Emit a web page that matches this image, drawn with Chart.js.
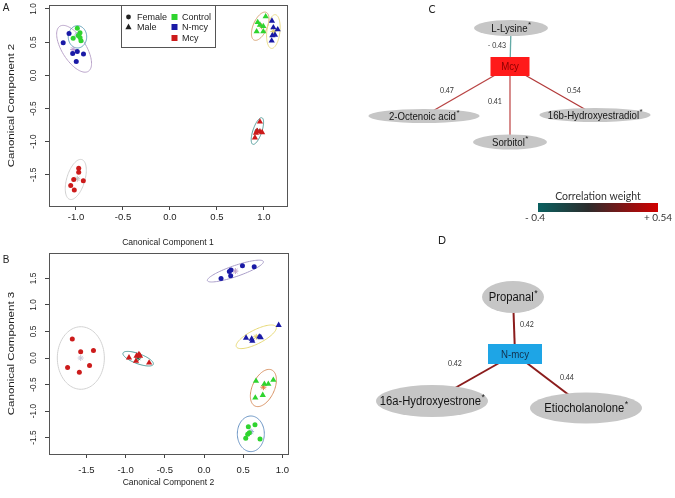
<!DOCTYPE html>
<html><head><meta charset="utf-8">
<script src="https://cdn.jsdelivr.net/npm/chart.js@4.4.1/dist/chart.umd.min.js"></script>
<style>
html,body{margin:0;padding:0;background:#fff}
body{width:675px;height:498px;position:relative;overflow:hidden}
.wrap{position:absolute}
</style></head><body>
<div class="wrap" style="left:0;top:0;width:300px;height:250px"><canvas id="chartA"></canvas></div>
<div class="wrap" style="left:0;top:248px;width:300px;height:250px"><canvas id="chartB"></canvas></div>
<div class="wrap" style="left:300px;top:0;width:375px;height:498px"><canvas id="chartN"></canvas></div>
<script>
// ================= DATA =================
// ---- Panel A : Canonical Component 1 vs 2 ----
const A_X_RANGE = [-1.287, 1.245];
const A_Y_RANGE = [-1.97, 1.06];
const A_X_TICKS = [-1.0, -0.5, 0.0, 0.5, 1.0];
const A_Y_TICKS = [1.0, 0.5, 0.0, -0.5, -1.0, -1.5];
const A_ctrlF_x = [-0.986, -0.957, -1.030, -0.957, -0.947, -0.975];
const A_ctrlF_y = [0.71, 0.64, 0.56, 0.57, 0.52, 0.60];
const A_nmcyF_x = [-1.074, -1.136, -1.035, -0.986, -0.920, -0.997];
const A_nmcyF_y = [0.63, 0.49, 0.33, 0.36, 0.32, 0.21];
const A_mcyF_x  = [-0.971, -0.971, -0.922, -1.024, -1.056, -1.018];
const A_mcyF_y  = [-1.40, -1.46, -1.59, -1.57, -1.66, -1.73];
const A_ctrlM_x = [1.018, 0.933, 0.957, 0.993, 0.922, 0.993];
const A_ctrlM_y = [0.886, 0.80, 0.76, 0.74, 0.66, 0.66];
const A_nmcyM_x = [1.085, 1.100, 1.146, 1.089, 1.117, 1.082];
const A_nmcyM_y = [0.82, 0.72, 0.69, 0.60, 0.61, 0.52];
const A_mcyM_x  = [0.957, 0.926, 0.915, 0.957, 0.904, 0.980];
const A_mcyM_y  = [-0.70, -0.84, -0.87, -0.85, -0.94, -0.86];
// group centroids (asterisks)
const A_cent_x = [-0.986, -1.03, 0.975, 1.10, 0.93, -0.986];
const A_cent_y = [0.607, 0.39, 0.74, 0.66, -0.84, -1.56];
// confidence ellipses: centre, two semi-axis vectors (data units)
const A_ELL_C = [[-1.02,0.40],[-0.984,0.58],[0.96,0.74],[1.10,0.66],[0.93,-0.84],[-1.002,-1.57]];
const A_ELL_U = [[-0.151,0.34],[0.098,0.0],[0.064,0.209],[0.021,0.254],[0.048,0.20],[0.064,0.30]];
const A_ELL_V = [[0.108,0.095],[0.0,0.168],[0.068,-0.042],[0.069,-0.012],[0.045,-0.021],[0.092,-0.039]];

// ---- Panel B : Canonical Component 2 vs 3 ----
const B_X_RANGE = [-1.977, 1.071];
const B_Y_RANGE = [-1.811, 1.981];
const B_X_TICKS = [-1.5, -1.0, -0.5, 0.0, 0.5, 1.0];
const B_Y_TICKS = [1.5, 1.0, 0.5, 0.0, -0.5, -1.0, -1.5];
const B_nmcyF_x = [0.217, 0.323, 0.344, 0.340, 0.490, 0.640];
const B_nmcyF_y = [1.50, 1.63, 1.66, 1.55, 1.74, 1.72];
const B_nmcyM_x = [0.536, 0.608, 0.616, 0.705, 0.723, 0.952];
const B_nmcyM_y = [0.38, 0.36, 0.32, 0.40, 0.39, 0.62];
const B_ctrlM_x = [0.663, 0.770, 0.820, 0.884, 0.654, 0.749];
const B_ctrlM_y = [-0.434, -0.49, -0.49, -0.415, -0.75, -0.70];
const B_ctrlF_x = [0.565, 0.650, 0.578, 0.557, 0.532, 0.714];
const B_ctrlF_y = [-1.296, -1.26, -1.41, -1.44, -1.515, -1.53];
const B_mcyF_x  = [-1.68, -1.573, -1.41, -1.74, -1.46, -1.59];
const B_mcyF_y  = [0.358, 0.12, 0.14, -0.18, -0.14, -0.27];
const B_mcyM_x  = [-0.957, -0.86, -0.83, -0.816, -0.867, -0.70];
const B_mcyM_y  = [0.006, 0.04, 0.07, 0.04, -0.057, -0.09];
const B_cent_x = [0.40, 0.666, 0.757, 0.60, -1.573, -0.84];
const B_cent_y = [1.64, 0.40, -0.55, -1.39, 0.0, 0.0];
const B_ELL_C = [[0.40,1.64],[0.666,0.40],[0.757,-0.566],[0.597,-1.43],[-1.571,0.0],[-0.84,-0.013]];
const B_ELL_U = [[0.357,0.181],[0.253,0.189],[0.107,0.34],[0.0,0.336],[0.30,0.0],[0.193,-0.106]];
const B_ELL_V = [[0.0227,-0.098],[0.04,-0.118],[0.127,-0.088],[0.172,0.0],[0.0,0.59],[-0.022,-0.088]];

// ---- Panel C network (layout units) ----
const C_NODES  = ['Mcy', 'L-Lysine', '2-Octenoic acid', '16b-Hydroxyestradiol', 'Sorbitol'];
const C_NODE_X = [21.0, 21.1, 12.4, 29.5, 21.0];
const C_NODE_Y = [6.65, 2.8, 11.6, 11.5, 14.2];
const C_EDGE_TO = [1, 2, 4, 3];
const C_WEIGHTS = [-0.43, 0.47, 0.41, 0.54];
const C_WLAB_X  = [19.7, 14.7, 19.5, 27.4];
const C_WLAB_Y  = [4.5, 9.0, 10.1, 9.0];
// ---- Panel D network ----
const D_NODES  = ['N-mcy', 'Propanal', '16a-Hydroxyestrone', 'Etiocholanolone'];
const D_NODE_X = [21.5, 21.3, 13.2, 28.6];
const D_NODE_Y = [35.4, 29.7, 40.1, 40.8];
const D_EDGE_TO = [1, 2, 3];
const D_WEIGHTS = [0.42, 0.42, 0.44];
const D_WLAB_X  = [22.7, 15.5, 26.7];
const D_WLAB_Y  = [32.4, 36.3, 37.7];
// colour bar
const CB_RANGE = [-0.4, 0.54];

// ================= STYLE =================
const COL_CTRL = '#2fd42f', COL_NMCY = '#1a1aa6', COL_MCY = '#cc1b1b';
const A_ELL_COL = ['#b9a3c9', '#5f9fb8', '#d6a273', '#e8da84', '#4f9a98', '#d0d0d0'];
const A_CENT_COL = ['#9aaacc', '#c0a0d0', '#e0a060', '#e0d070', '#2a6060', '#c4c4c4'];
const B_ELL_COL = ['#aa9ec9', '#e6d874', '#d89264', '#6a94c4', '#d2d2d2', '#4f9a98'];
const B_CENT_COL = ['#c0a0c8', '#e0d070', '#e07a40', '#90a8d0', '#c8c8d8', '#2a6040'];
const C_NODE_W = [3.9, 7.4, 11.1, 11.1, 7.4];
const C_NODE_H = [1.9, 1.6, 1.4, 1.4, 1.5];
const C_EDGE_COL = ['#63aaa6', '#b94444', '#c25050', '#b23a3a'];
const D_NODE_W = [5.4, 6.2, 11.2, 11.2];
const D_NODE_H = [2.0, 3.2, 3.2, 3.1];
const D_EDGE_COL = ['#8b1c1c', '#8b1c1c', '#8b1c1c'];

const SANS = "'Liberation Sans', Arial, sans-serif";
const CAL = "Lato, 'Open Sans', sans-serif";
Chart.defaults.font.family = SANS;
Chart.defaults.font.size = 9.5;
Chart.defaults.color = '#222';

// text helper: sx = scale along the text, sy = across
function txt(ctx, s, x, y, size, family, sx, align, rot, sy) {
  ctx.save();
  ctx.translate(x, y);
  if (rot) ctx.rotate(rot);
  ctx.scale(sx || 1, sy || 1);
  ctx.font = size + 'px ' + family;
  ctx.textAlign = align || 'center';
  ctx.textBaseline = 'middle';
  ctx.fillText(s, 0, 0);
  ctx.restore();
}

function pts(xs, ys) { return xs.map((x, i) => ({x: x, y: ys[i]})); }
function grp(label, xs, ys, color, shape) {
  return {label, data: pts(xs, ys), pointStyle: shape, backgroundColor: color, borderColor: color,
    borderWidth: 0, pointRadius: shape === 'triangle' ? 3.6 : 2.5, showLine: false};
}
function cent(xs, ys, cols) {
  return {label: 'centroid', data: pts(xs, ys), pointStyle: 'star', pointRadius: 3,
    borderColor: cols, backgroundColor: 'transparent', borderWidth: 1, showLine: false};
}
function ells(C, U, V, col) { return C.map((c, i) => ({c, u: U[i], v: V[i], color: col[i]})); }

// ---- plugin for the scatter panels ----
const framePlugin = {
  id: 'frame',
  beforeDatasetsDraw(chart, args, o) {
    const {ctx, scales: {x, y}} = chart;
    ctx.save();
    ctx.lineWidth = 1;
    o.ellipses.forEach(e => {
      ctx.beginPath();
      for (let i = 0; i <= 90; i++) {
        const t = i / 90 * 2 * Math.PI;
        const px = x.getPixelForValue(e.c[0] + Math.cos(t) * e.u[0] + Math.sin(t) * e.v[0]);
        const py = y.getPixelForValue(e.c[1] + Math.cos(t) * e.u[1] + Math.sin(t) * e.v[1]);
        if (i) ctx.lineTo(px, py); else ctx.moveTo(px, py);
      }
      ctx.strokeStyle = e.color;
      ctx.stroke();
    });
    ctx.restore();
  },
  afterDraw(chart, args, o) {
    const {ctx, chartArea: a, scales: {y}} = chart;
    ctx.save();
    ctx.strokeStyle = '#555';
    ctx.lineWidth = 1;
    ctx.strokeRect(Math.round(a.left) + 0.5, Math.round(a.top) + 0.5,
      Math.round(a.right - a.left), Math.round(a.bottom - a.top));
    ctx.fillStyle = '#222';
    // rotated y tick labels
    o.yticks.forEach(v => {
      txt(ctx, v.toFixed(1), a.left - o.ylabOff, y.getPixelForValue(v), 9.5, SANS, 0.88, 'center', -Math.PI / 2);
    });
    // axis titles
    txt(ctx, o.xTitle, (a.left + a.right) / 2, a.bottom + o.xTitleOff, 9.5, SANS, 0.9);
    txt(ctx, o.yTitle, 11.7, (a.top + a.bottom) / 2, 11.5, SANS, 1, 'center', -Math.PI / 2, 0.85);
    // panel letter
    txt(ctx, o.letter, o.letterPos[0], o.letterPos[1], 10, SANS, 1);
    // legend
    if (o.legend) {
      const w = 94, h = 42;
      const lx = (a.left + a.right) / 2 - w / 2, ly = a.top;
      ctx.fillStyle = '#fff';
      ctx.fillRect(lx, ly, w, h);
      ctx.strokeStyle = '#555';
      ctx.strokeRect(Math.round(lx) + 0.5, Math.round(ly) + 0.5, w, h);
      ctx.fillStyle = '#222';
      const rows = [ly + 12, ly + 22, ly + 33];
      ctx.beginPath(); ctx.arc(lx + 7.5, rows[0], 2.4, 0, 2 * Math.PI); ctx.fill();
      ctx.beginPath();
      ctx.moveTo(lx + 7.5, rows[1] - 3.4); ctx.lineTo(lx + 10.6, rows[1] + 2.2); ctx.lineTo(lx + 4.4, rows[1] + 2.2);
      ctx.closePath(); ctx.fill();
      txt(ctx, 'Female', lx + 16, rows[0], 9.5, SANS, 0.95, 'left');
      txt(ctx, 'Male', lx + 16, rows[1], 9.5, SANS, 0.95, 'left');
      const cols = [COL_CTRL, COL_NMCY, COL_MCY], names = ['Control', 'N-mcy', 'Mcy'];
      names.forEach((n, i) => {
        ctx.fillStyle = cols[i];
        ctx.fillRect(lx + 50.5, rows[i] - 3, 6, 6);
        ctx.fillStyle = '#222';
        txt(ctx, n, lx + 61, rows[i], 9.5, SANS, 0.95, 'left');
      });
    }
    ctx.restore();
  }
};

function scatterCfg(datasets, xr, yr, xt, yt, pad, tickPad, plug) {
  return {
    type: 'scatter',
    data: {datasets},
    plugins: [framePlugin],
    options: {
      responsive: true, maintainAspectRatio: false, animation: false, devicePixelRatio: 1,
      layout: {padding: pad},
      plugins: {legend: {display: false}, tooltip: {enabled: false}, frame: plug},
      scales: {
        x: {
          type: 'linear', min: xr[0], max: xr[1],
          afterBuildTicks: s => { s.ticks = xt.map(v => ({value: v})); },
          afterFit: s => { s.height = 44; },
          grid: {drawOnChartArea: false, drawTicks: true, tickLength: 4, color: '#444'},
          border: {display: false},
          ticks: {padding: tickPad, color: '#222', font: {size: 9.5}, maxRotation: 0, autoSkip: false,
            callback: v => Number(v).toFixed(1)},
          title: {display: false}
        },
        y: {
          type: 'linear', min: yr[0], max: yr[1],
          afterBuildTicks: s => { s.ticks = yt.map(v => ({value: v})); },
          afterFit: s => { s.width = 49; },
          grid: {drawOnChartArea: false, drawTicks: true, tickLength: 4, color: '#444'},
          border: {display: false},
          ticks: {display: false},
          title: {display: false}
        }
      }
    }
  };
}

// ---- Chart A ----
new Chart(document.getElementById('chartA'), scatterCfg([
  grp('Control F', A_ctrlF_x, A_ctrlF_y, COL_CTRL, 'circle'),
  grp('N-mcy F', A_nmcyF_x, A_nmcyF_y, COL_NMCY, 'circle'),
  grp('Mcy F', A_mcyF_x, A_mcyF_y, COL_MCY, 'circle'),
  grp('Control M', A_ctrlM_x, A_ctrlM_y, COL_CTRL, 'triangle'),
  grp('N-mcy M', A_nmcyM_x, A_nmcyM_y, COL_NMCY, 'triangle'),
  grp('Mcy M', A_mcyM_x, A_mcyM_y, COL_MCY, 'triangle'),
  cent(A_cent_x, A_cent_y, A_CENT_COL)
], A_X_RANGE, A_Y_RANGE, A_X_TICKS, A_Y_TICKS,
  {left: 0, right: 13, top: 3, bottom: 0}, 2,
  {ellipses: ells(A_ELL_C, A_ELL_U, A_ELL_V, A_ELL_COL), yticks: A_Y_TICKS, ylabOff: 16,
   xTitle: 'Canonical Component 1', yTitle: 'Canonical Component 2', xTitleOff: 36,
   letter: 'A', letterPos: [6, 8], legend: true}));

// ---- Chart B ----
new Chart(document.getElementById('chartB'), scatterCfg([
  grp('N-mcy F', B_nmcyF_x, B_nmcyF_y, COL_NMCY, 'circle'),
  grp('N-mcy M', B_nmcyM_x, B_nmcyM_y, COL_NMCY, 'triangle'),
  grp('Control M', B_ctrlM_x, B_ctrlM_y, COL_CTRL, 'triangle'),
  grp('Control F', B_ctrlF_x, B_ctrlF_y, COL_CTRL, 'circle'),
  grp('Mcy F', B_mcyF_x, B_mcyF_y, COL_MCY, 'circle'),
  grp('Mcy M', B_mcyM_x, B_mcyM_y, COL_MCY, 'triangle'),
  cent(B_cent_x, B_cent_y, B_CENT_COL)
], B_X_RANGE, B_Y_RANGE, B_X_TICKS, B_Y_TICKS,
  {left: 0, right: 12, top: 5, bottom: 0}, 7,
  {ellipses: ells(B_ELL_C, B_ELL_U, B_ELL_V, B_ELL_COL), yticks: B_Y_TICKS, ylabOff: 16,
   xTitle: 'Canonical Component 2', yTitle: 'Canonical Component 3', xTitleOff: 28,
   letter: 'B', letterPos: [6, 12], legend: false}));

// ---- Networks C & D ----
function edgeSets(nx, ny, to, cols, w) {
  return to.map((j, i) => ({
    label: 'edge', showLine: true, pointRadius: 0, borderColor: cols[i], borderWidth: w,
    data: [{x: nx[0], y: ny[0]}, {x: nx[j], y: ny[j]}]
  }));
}
const netPanels = [
  {names: C_NODES, w: C_NODE_W, h: C_NODE_H, rectFill: '#ff1a1a', rectText: '#8a0000',
   size: 11.5, sx: 0.84, rectSize: 11.5, rectSx: 0.84, wts: C_WEIGHTS, lx: C_WLAB_X, ly: C_WLAB_Y},
  {names: D_NODES, w: D_NODE_W, h: D_NODE_H, rectFill: '#1ea5e6', rectText: '#12304c',
   size: 12.5, sx: 0.9, rectSize: 11, rectSx: 0.88, wts: D_WEIGHTS, lx: D_WLAB_X, ly: D_WLAB_Y}
];
const netDatasets = [
  ...edgeSets(C_NODE_X, C_NODE_Y, C_EDGE_TO, C_EDGE_COL, 1.3),
  ...edgeSets(D_NODE_X, D_NODE_Y, D_EDGE_TO, D_EDGE_COL, 2),
  {label: 'nodesC', data: pts(C_NODE_X, C_NODE_Y), pointRadius: 0, showLine: false},
  {label: 'nodesD', data: pts(D_NODE_X, D_NODE_Y), pointRadius: 0, showLine: false}
];
netPanels[0].ds = netDatasets.length - 2;
netPanels[1].ds = netDatasets.length - 1;

const netPlugin = {
  id: 'net',
  afterDatasetsDraw(chart) {
    const {ctx, scales: {x, y}} = chart;
    const sx = v => x.getPixelForValue(v) - x.getPixelForValue(0);
    const sy = v => Math.abs(y.getPixelForValue(v) - y.getPixelForValue(0));
    ctx.save();
    netPanels.forEach(p => {
      const meta = chart.getDatasetMeta(p.ds);
      p.names.forEach((name, i) => {
        const el = meta.data[i];
        const cx = el.x, cy = el.y, w = sx(p.w[i]), h = sy(p.h[i]);
        if (i === 0) {
          ctx.fillStyle = p.rectFill;
          ctx.fillRect(cx - w / 2, cy - h / 2, w, h);
          ctx.fillStyle = p.rectText;
          txt(ctx, name, cx, cy + 0.5, p.rectSize, SANS, p.rectSx);
        } else {
          ctx.fillStyle = '#c6c6c6';
          ctx.beginPath();
          ctx.ellipse(cx, cy, w / 2, h / 2, 0, 0, 2 * Math.PI);
          ctx.fill();
          ctx.fillStyle = '#151515';
          ctx.font = p.size + 'px ' + SANS;
          const tw = ctx.measureText(name).width * p.sx;
          ctx.font = (p.size * 0.7) + 'px ' + SANS;
          const aw = ctx.measureText('*').width;
          const x0 = cx - (tw + aw) / 2;
          txt(ctx, name, x0, cy + 0.5, p.size, SANS, p.sx, 'left');
          txt(ctx, '*', x0 + tw + 0.5, cy - p.size * 0.28, p.size * 0.7, SANS, 1, 'left');
        }
      });
      ctx.fillStyle = '#333';
      p.wts.forEach((wt, i) => {
        const t = wt < 0 ? '- ' + Math.abs(wt).toFixed(2) : wt.toFixed(2);
        txt(ctx, t, x.getPixelForValue(p.lx[i]), y.getPixelForValue(p.ly[i]), 8, CAL, 0.88);
      });
    });
    // colour bar
    const bx0 = x.getPixelForValue(23.8), bx1 = x.getPixelForValue(35.8);
    const by0 = y.getPixelForValue(20.3), by1 = y.getPixelForValue(21.2);
    const g = ctx.createLinearGradient(bx0, 0, bx1, 0);
    g.addColorStop(0, '#0a6060');
    g.addColorStop(0.42, '#2c2c2c');
    g.addColorStop(1, '#d20000');
    ctx.fillStyle = g;
    ctx.fillRect(bx0, by0, bx1 - bx0, by1 - by0);
    ctx.fillStyle = '#333';
    txt(ctx, 'Correlation weight', (bx0 + bx1) / 2, y.getPixelForValue(19.7), 10.5, CAL, 1);
    txt(ctx, '- ' + Math.abs(CB_RANGE[0]).toFixed(1), x.getPixelForValue(23.5), y.getPixelForValue(21.8), 10, CAL, 1);
    txt(ctx, '+ ' + CB_RANGE[1].toFixed(2), x.getPixelForValue(35.8), y.getPixelForValue(21.8), 10, CAL, 1);
    // panel letters
    ctx.fillStyle = '#222';
    txt(ctx, 'C', x.getPixelForValue(13.2), y.getPixelForValue(1.0), 10.5, CAL, 1);
    txt(ctx, 'D', x.getPixelForValue(14.2), y.getPixelForValue(24.1), 10.5, CAL, 1);
    ctx.restore();
  }
};

new Chart(document.getElementById('chartN'), {
  type: 'scatter',
  data: {datasets: netDatasets},
  plugins: [netPlugin],
  options: {
    responsive: true, maintainAspectRatio: false, animation: false, devicePixelRatio: 1,
    layout: {padding: 0},
    plugins: {legend: {display: false}, tooltip: {enabled: false}},
    scales: {
      x: {type: 'linear', min: 0, max: 37.5, display: false},
      y: {type: 'linear', min: 0, max: 49.8, reverse: true, display: false}
    }
  }
});
</script></body></html>
